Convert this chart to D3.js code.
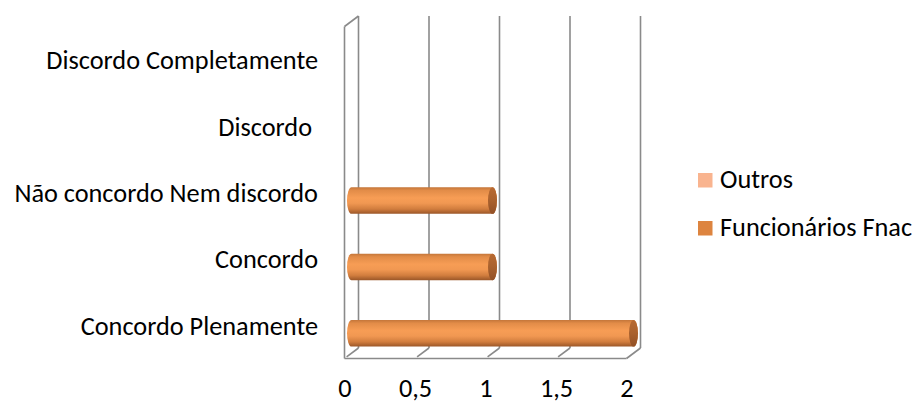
<!DOCTYPE html>
<html><head><meta charset="utf-8">
<script src="https://cdn.jsdelivr.net/npm/d3@7"></script>
<style>
html,body{margin:0;padding:0;background:#fff;}
svg{display:block;}
text{font-family:Carlito,Calibri,Lato,sans-serif;fill:#000;white-space:pre;}
</style></head>
<body>
<svg id="chart" width="917" height="403"></svg>
<script>
const categories = ["Discordo Completamente", "Discordo ", "Não concordo Nem discordo", "Concordo", "Concordo Plenamente"];
const seriesNames = ["Outros", "Funcionários Fnac"];
const outros = [0, 0, 0, 0, 0];
const funcionarios = [0, 0, 1, 1, 2];
const xTicks = [0, 0.5, 1, 1.5, 2];
const xTickLabels = ["0", "0,5", "1", "1,5", "2"];
const legendColors = ["#f9b48f", "#dd843f"];

const svg = d3.select("#chart");
const defs = svg.append("defs");

// 3D geometry
const depthX = -14, depthY = 10.5;
const x = d3.scaleLinear().domain([0, 2]).range([358.5, 640.5]); // back wall
const yTopBack = 16, yBotBack = 348;
const grid = "#8a8a8a";

// font sizing to match label widths
const probe = svg.append("text").attr("font-size", 20).text("Discordo Completamente");
const w20 = probe.node().getComputedTextLength();
probe.remove();
const fs = 20 * 272 / w20;

// back wall gridlines
svg.append("g").selectAll("line").data(xTicks).join("line")
  .attr("x1", d => x(d)).attr("x2", d => x(d))
  .attr("y1", yTopBack).attr("y2", yBotBack)
  .attr("stroke", grid).attr("stroke-width", 1.6);

// floor
const floor = svg.append("g").attr("stroke", grid).attr("stroke-width", 1.6).attr("fill", "none");
floor.append("line").attr("x1", x(0) + depthX).attr("x2", x(2) + depthX)
  .attr("y1", yBotBack + depthY).attr("y2", yBotBack + depthY);
floor.append("line").attr("x1", x(2) + depthX).attr("x2", x(2))
  .attr("y1", yBotBack + depthY).attr("y2", yBotBack);
floor.selectAll("line.diag").data(xTicks.slice(0, 4)).join("line").attr("class", "diag")
  .attr("x1", d => x(d)).attr("y1", yBotBack)
  .attr("x2", d => x(d) + depthX * 0.85).attr("y2", yBotBack + depthY * 0.85);

// left wall
const wall = svg.append("g").attr("stroke", grid).attr("stroke-width", 1.6).attr("fill", "none");
wall.append("line").attr("x1", x(0) + depthX).attr("x2", x(0) + depthX)
  .attr("y1", yTopBack + depthY).attr("y2", yBotBack + depthY);
wall.append("line").attr("x1", x(0) + depthX).attr("x2", x(0))
  .attr("y1", yTopBack + depthY).attr("y2", yTopBack);

// bars at mid depth
const midX = depthX / 2, midY = depthY / 2;
const y = d3.scaleBand().domain(categories).range([yTopBack + midY, yBotBack + midY]).padding(0);
const yInner = d3.scaleBand().domain(seriesNames).range([0, y.bandwidth()]).paddingInner(0).paddingOuter(0.25);

const g1 = defs.append("linearGradient").attr("id", "body").attr("x1", 0).attr("y1", 0).attr("x2", 0).attr("y2", 1);
[[0, "#c4763a"], [0.12, "#e28c48"], [0.4, "#f79d55"], [0.6, "#f19852"], [0.82, "#d17d3e"], [1, "#9a5628"]]
  .forEach(([o, c]) => g1.append("stop").attr("offset", o).attr("stop-color", c));
const g2 = defs.append("linearGradient").attr("id", "cap").attr("x1", 0).attr("y1", 0).attr("x2", 0).attr("y2", 1);
[[0, "#b86a32"], [0.5, "#a9612e"], [1, "#925026"]]
  .forEach(([o, c]) => g2.append("stop").attr("offset", o).attr("stop-color", c));

const rx = 4.5;
const barData = [];
categories.forEach((c, i) => {
  barData.push({cat: c, series: seriesNames[0], value: outros[i]});
  barData.push({cat: c, series: seriesNames[1], value: funcionarios[i]});
});
const bars = svg.append("g").selectAll("g").data(barData.filter(d => d.value > 0)).join("g");
bars.append("path").attr("fill", "url(#body)").attr("d", d => {
  const x0 = x(0) + midX, x1 = x(d.value) + midX;
  const r = yInner.bandwidth() / 2;
  const cy = y(d.cat) + yInner(d.series) + r;
  return `M${x0},${cy - r}L${x1},${cy - r}A${rx},${r} 0 0 1 ${x1},${cy + r}L${x0},${cy + r}A${rx},${r} 0 0 1 ${x0},${cy - r}Z`;
});
bars.append("ellipse").attr("fill", "url(#cap)")
  .attr("cx", d => x(d.value) + midX)
  .attr("cy", d => y(d.cat) + yInner(d.series) + yInner.bandwidth() / 2)
  .attr("rx", rx).attr("ry", yInner.bandwidth() / 2);

// category labels (front plane)
const yFront = d3.scaleBand().domain(categories).range([yTopBack + depthY, yBotBack + depthY]);
svg.append("g").selectAll("text").data(categories).join("text")
  .attr("x", 318).attr("y", d => yFront(d) + yFront.bandwidth() / 2 + 9.5)
  .attr("text-anchor", "end").attr("font-size", fs).text(d => d);

// x tick labels
svg.append("g").selectAll("text").data(xTicks).join("text")
  .attr("x", d => x(d) + depthX + 0.5).attr("y", 396.5)
  .attr("text-anchor", "middle").attr("font-size", fs).text((d, i) => xTickLabels[i]);

// legend
const legendItems = [seriesNames[0], seriesNames[1]];
const leg = svg.append("g").selectAll("g").data(legendItems).join("g")
  .attr("transform", (d, i) => `translate(698,${173 + i * 48})`);
leg.append("rect").attr("width", 14.5).attr("height", 14.5).attr("fill", (d, i) => legendColors[i]);
leg.append("text").attr("x", 22).attr("y", 15.2).attr("font-size", fs).text(d => d);
</script>
</body></html>
